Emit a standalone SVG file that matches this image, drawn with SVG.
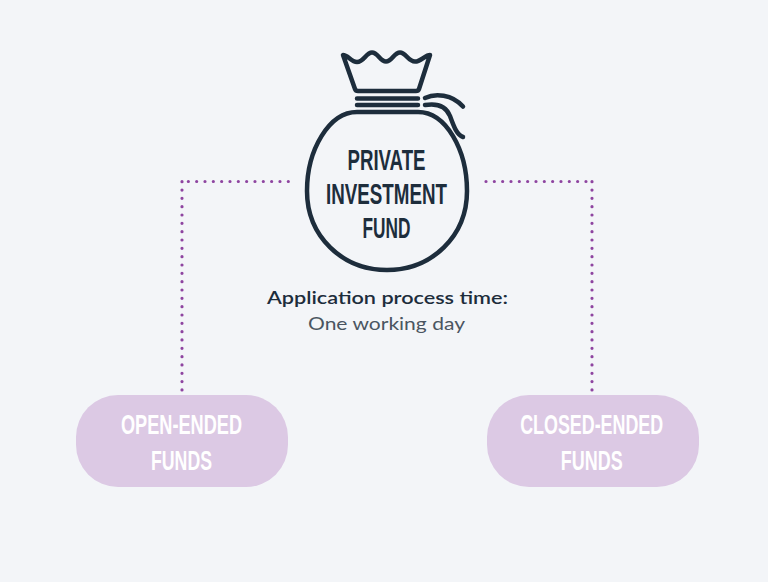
<svg xmlns="http://www.w3.org/2000/svg" width="768" height="582" viewBox="0 0 768 582">
<style>
.bg{fill:#f3f5f8}
.dot{fill:none;stroke:#8e44a0;stroke-width:3.2;stroke-linecap:round;stroke-dasharray:0 8.33}
.bag{fill:none;stroke:#1d2d3c;stroke-width:4.5;stroke-linecap:round;stroke-linejoin:round}
.pill{fill:#dcc9e4}
.big{font-family:"Liberation Sans","Arial",sans-serif;font-weight:bold;text-anchor:middle}
.ptxt{fill:#ffffff;font-size:28px}
.btxt{fill:#1d2d3c;font-size:30px}
.sub{font-family:"Lato","Open Sans","Liberation Sans",sans-serif;text-anchor:middle;font-size:17.5px}
</style>
<rect class="bg" x="0" y="0" width="768" height="582"/>
<g id="connectors">
<path class="dot" d="M288.3,181.5 H182"/>
<path class="dot" d="M182,181.7 V390"/>
<path class="dot" d="M486,181.5 H592"/>
<path class="dot" d="M592,181.7 V390"/>
</g>
<g id="fund">
<path class="bag" d="M343,55 C348,55 351,62 357,62 C364,62 366,52.5 372,52.5 C378,52.5 380,61.5 386,61.5 C392,61.5 394,52.5 400,52.5 C406,52.5 408,61.5 415,61.5 C421,61.5 425,55 430,55 L419,89 C418.5,90.5 417.5,91 416,91 L358,91 C356.5,91 355.5,90.5 355,89 Z"/>
<path class="bag" d="M357,98.5 H418 M357,105 H418"/>
<path class="bag" d="M425,98 C435,93 452,94 463,106.5"/>
<path class="bag" d="M425,105 C437,103 446,106 450,116 C454,127 457,135 463,137"/>
<path class="bag" d="M357,112 L418,112 C446,112 467,150 467,191 C467,236 432,270 387,270 C342,270 307,236 307,191 C307,150 329,112 357,112 Z"/>
<text class="big btxt" x="386.5" y="170" textLength="78" lengthAdjust="spacingAndGlyphs">PRIVATE</text>
<text class="big btxt" x="386.5" y="203.5" textLength="121" lengthAdjust="spacingAndGlyphs">INVESTMENT</text>
<text class="big btxt" x="386.5" y="238" textLength="48" lengthAdjust="spacingAndGlyphs">FUND</text>
<text class="sub" x="387.5" y="304" fill="#1d2d3c" font-weight="600" textLength="241" lengthAdjust="spacingAndGlyphs">Application process time:</text>
<text class="sub" x="386.5" y="330" fill="#4a5561" font-weight="400" textLength="157" lengthAdjust="spacingAndGlyphs">One working day</text>
</g>
<g id="open-ended">
<rect class="pill" x="76" y="395" width="212" height="92" rx="42"/>
<text class="big ptxt" x="181.5" y="433.5" textLength="121" lengthAdjust="spacingAndGlyphs">OPEN-ENDED</text>
<text class="big ptxt" x="181.5" y="469.5" textLength="61" lengthAdjust="spacingAndGlyphs">FUNDS</text>
</g>
<g id="closed-ended">
<rect class="pill" x="487" y="395" width="212" height="92" rx="42"/>
<text class="big ptxt" x="591.7" y="433.5" textLength="143" lengthAdjust="spacingAndGlyphs">CLOSED-ENDED</text>
<text class="big ptxt" x="591.7" y="469.5" textLength="62" lengthAdjust="spacingAndGlyphs">FUNDS</text>
</g>
</svg>
